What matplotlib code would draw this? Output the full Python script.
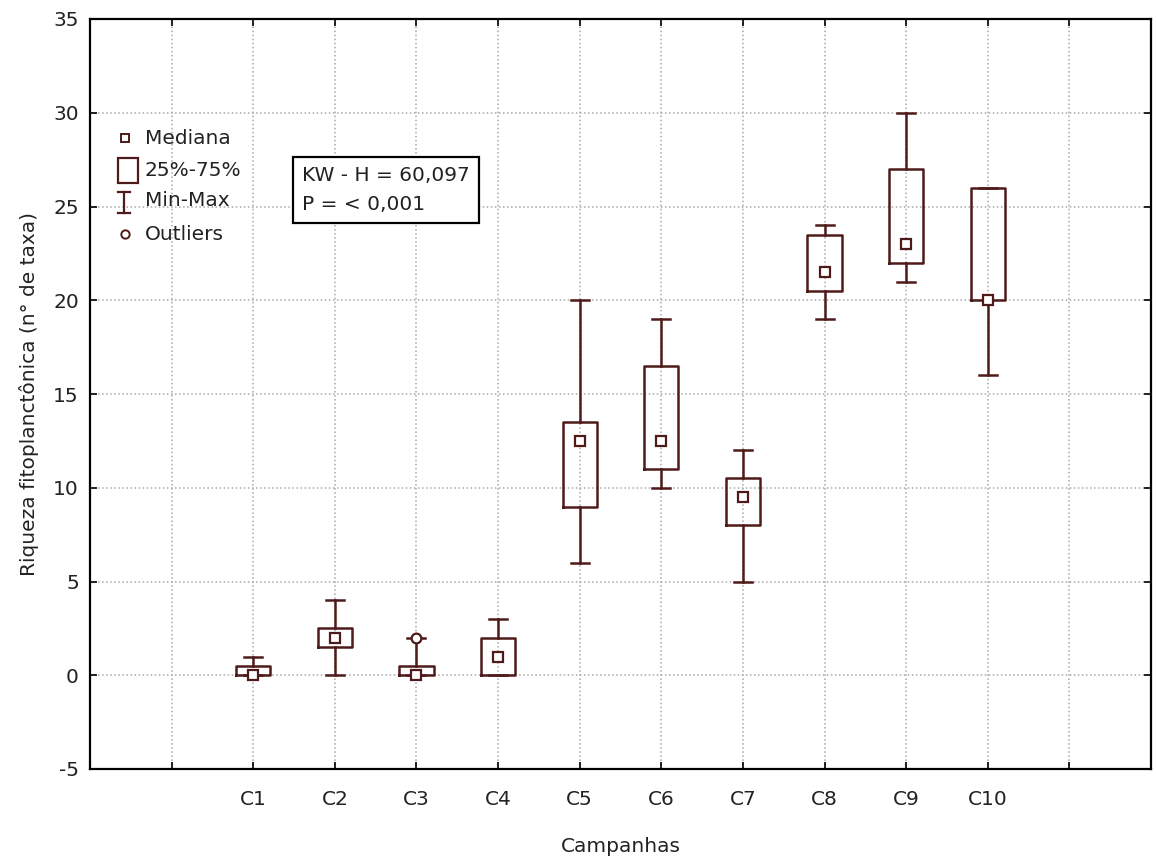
import matplotlib
matplotlib.use("Agg")
import matplotlib.pyplot as plt
from matplotlib.patches import Rectangle
from matplotlib.lines import Line2D

plt.rcParams['font.family'] = ['DejaVu Sans']
plt.rcParams['axes.unicode_minus'] = False

# Phytoplankton richness per sampling campaign
campaigns = ["C1", "C2", "C3", "C4", "C5", "C6", "C7", "C8", "C9", "C10"]
medians = [0, 2, 0, 1, 12.5, 12.5, 9.5, 21.5, 23, 20]
q1 = [0, 1.5, 0, 0, 9, 11, 8, 20.5, 22, 20]
q3 = [0.5, 2.5, 0.5, 2, 13.5, 16.5, 10.5, 23.5, 27, 26]
mins = [0, 0, 0, 0, 6, 10, 5, 19, 21, 16]
maxs = [1, 4, 2, 3, 20, 19, 12, 24, 30, 26]
outliers = [[], [], [2], [], [], [], [], [], [], []]
y_ticks = [-5, 0, 5, 10, 15, 20, 25, 30, 35]

stat_text = "KW - H = 60,097\nP = < 0,001"

edge = "#4e1a1a"
txt = "#222222"
FS = 14.5
W, H = 1156, 861
fig = plt.figure(figsize=(W / 100, H / 100), dpi=100)
ax = fig.add_axes([90 / W, 1 - 769 / H, (1151 - 90) / W, (769 - 19) / H])

positions = list(range(1, len(campaigns) + 1))
stats = []
for i, name in enumerate(campaigns):
    stats.append(dict(label=name, med=medians[i], q1=q1[i], q3=q3[i],
                      whislo=mins[i], whishi=maxs[i], fliers=outliers[i]))

ax.bxp(stats, positions=positions, widths=0.42, capwidths=0.22,
       boxprops=dict(color=edge, lw=1.8),
       whiskerprops=dict(color=edge, lw=1.8),
       capprops=dict(color=edge, lw=1.8),
       medianprops=dict(linestyle="none"),
       flierprops=dict(marker="o", markersize=7, markerfacecolor="white",
                       markeredgecolor=edge, markeredgewidth=1.6),
       zorder=3)
ax.plot(positions, medians, linestyle="none", marker="s", markersize=7,
        markerfacecolor="white", markeredgecolor=edge, markeredgewidth=1.6,
        zorder=4)

ax.set_xlim(-1, 12)
ax.set_ylim(-5, 35)
ax.set_xticks(range(0, 12))
ax.set_xticklabels([""] + campaigns + [""])
ax.set_yticks(y_ticks)
ax.tick_params(direction="in", length=5, width=1.2, labelsize=FS,
               top=True, right=True, colors="black", labelcolor=txt, pad=8)
ax.tick_params(axis="x", pad=15)
ax.grid(True, color="#a8a8a8", linestyle=":", linewidth=1.1)
ax.set_axisbelow(True)
for sp in ax.spines.values():
    sp.set_linewidth(1.6)

ax.set_xlabel("Campanhas", fontsize=FS, labelpad=20, color=txt)
ax.set_ylabel("Riqueza fitoplanctônica (n° de taxa)", fontsize=FS,
              labelpad=10, color=txt)

# Legend drawn by hand in figure pixel space
def fx(x):
    return x / W

def fy(y):
    return 1 - y / H

lw = 1.6
fig.add_artist(Line2D([fx(125)], [fy(138)], marker="s", markersize=6,
                      markerfacecolor="white", markeredgecolor=edge,
                      markeredgewidth=1.4, transform=fig.transFigure))
fig.add_artist(Rectangle((fx(118), fy(183)), fx(20), 25 / H, fill=False,
                         edgecolor=edge, lw=lw, transform=fig.transFigure))
fig.add_artist(Line2D([fx(124), fx(124)], [fy(192), fy(213)], color=edge,
                      lw=lw, transform=fig.transFigure))
fig.add_artist(Line2D([fx(118), fx(130)], [fy(192), fy(192)], color=edge,
                      lw=lw, transform=fig.transFigure))
fig.add_artist(Line2D([fx(118), fx(130)], [fy(213), fy(213)], color=edge,
                      lw=lw, transform=fig.transFigure))
fig.add_artist(Line2D([fx(125)], [fy(234)], marker="o", markersize=6,
                      markerfacecolor="white", markeredgecolor=edge,
                      markeredgewidth=1.4, transform=fig.transFigure))
for label, yy in [("Mediana", 138), ("25%-75%", 171), ("Min-Max", 201),
                  ("Outliers", 234)]:
    fig.text(fx(145), fy(yy), label, fontsize=FS, va="center", ha="left",
             color=txt)

fig.text(fx(302), fy(190), stat_text, fontsize=FS, va="center", ha="left",
         linespacing=1.65, color=txt,
         bbox=dict(boxstyle="square,pad=0.45", facecolor="white",
                   edgecolor="black", lw=1.6))

fig.savefig("out.png", dpi=100)
